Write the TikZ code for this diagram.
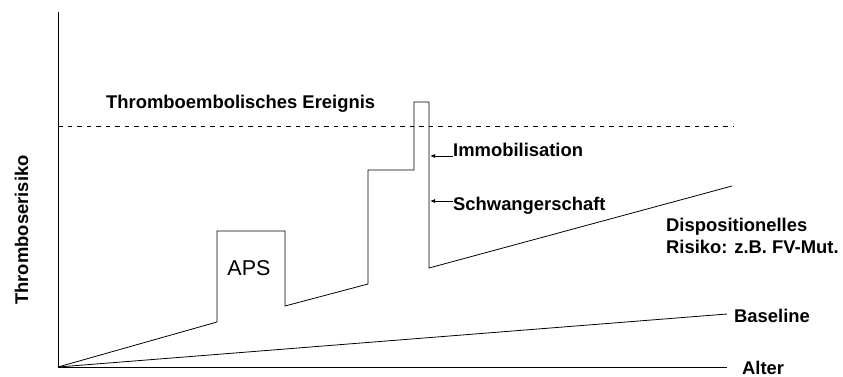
\documentclass[tikz,border=0pt]{standalone}
\usepackage{fontspec}
\setmainfont{Liberation Sans}
\usetikzlibrary{arrows.meta}
\begin{document}
\begin{tikzpicture}[x=1pt,y=-1pt,
  lbl/.style={font=\bfseries\fontsize{18.4}{22}\selectfont, inner sep=0pt, anchor=base west},
  curve/.style={line width=0.8pt, line join=miter},
  ax/.style={line width=0.8pt},
  pointer/.style={line width=0.8pt, -{Latex[length=5pt,width=4pt]}}]
\useasboundingbox (0,0) rectangle (843,376);
% axes
\coordinate (O) at (58,367);
\coordinate (ytop) at (58,12);
\coordinate (xend) at (727,367);
\draw[ax] (ytop) -- (O) -- (xend);
% threshold
\draw[line width=0.7pt, dash pattern=on 4.5pt off 5pt] (58,126.5) -- (733,126.5);
% baseline risk
\coordinate (bend) at (727,314);
\draw[curve] (O) -- (bend);
% main risk curve
\draw[curve] (O) -- (217,322) -- (217,231) -- (285,231) -- (285,306)
  -- (368,284) -- (368,170) -- (414,170) -- (414,102) -- (429,102)
  -- (429,268) -- (732,186);
% labels
\node[lbl] (ereignis) at (106,108) {Thromboembolisches Ereignis};
\node[lbl] (imm) at (453,156) {Immobilisation};
\node[lbl] (schw) at (453,210) {Schwangerschaft};
\node[lbl] (disp1) at (666,231.5) {Dispositionelles};
\node[lbl] (disp2) at (666,253) {Risiko: z.B. FV-Mut.};
\node[lbl] (base) at (734,322) {Baseline};
\node[lbl] (alter) at (742,374) {Alter};
\node[font=\bfseries\fontsize{18.4}{22}\selectfont, inner sep=0pt, rotate=90, anchor=base] (yl) at (28,230) {Thromboserisiko};
\node[font=\fontsize{21.5}{25}\selectfont, inner sep=0pt] (aps) at (249,268) {APS};
% pointers
\coordinate (immtip) at (430,156);
\coordinate (schwtip) at (430,201);
\draw[pointer] (imm.base west) -- (immtip);
\draw[pointer] (schw.west |- schwtip) -- (schwtip);
\end{tikzpicture}
\end{document}
